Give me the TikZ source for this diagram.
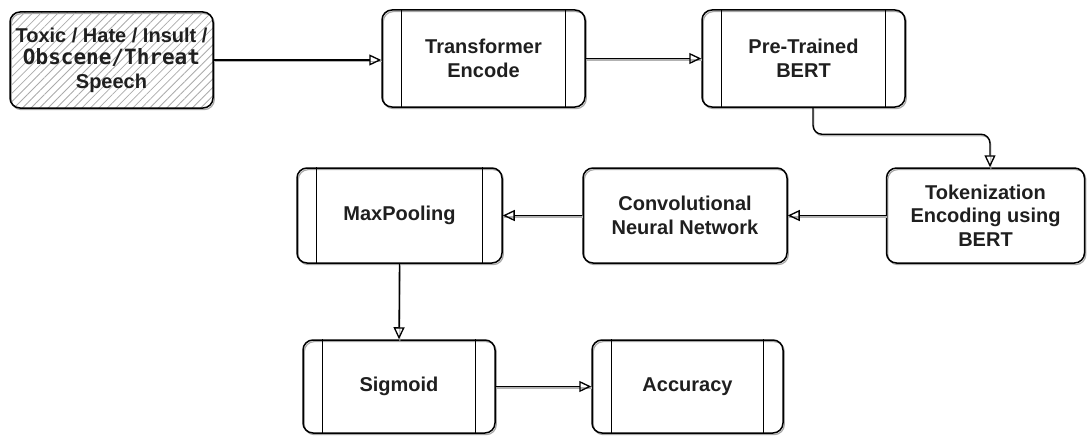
\documentclass[tikz,border=0pt]{standalone}
\usepackage{fontspec}
\setmainfont{Liberation Sans}
\newfontfamily\monob{DejaVu Sans Mono}
\usetikzlibrary{arrows.meta,patterns.meta,calc}
\begin{document}
\begin{tikzpicture}[x=1pt,y=-1pt,
  base/.style={draw=black, line width=1.5pt, rounded corners=10pt,
    font=\bfseries\fontsize{20}{23.5}\selectfont, text=black!88,
    align=center, inner sep=0pt,
    preaction={draw=black!35, line width=1.2pt,
      transform canvas={shift={(1.3pt,-1.6pt)}}}},
  hatchbox/.style={base, pattern={Lines[angle=45,distance=6pt,line width=0.8pt]},
    pattern color=black!33},
  arr/.style={draw=black, line width=1.4pt,
    -{Triangle[open,length=12pt,width=11pt,line width=1.3pt]},
    preaction={draw=black!30, line width=1.1pt, -,
      transform canvas={shift={(0.8pt,-1.5pt)}}}},
  sideline/.style={draw=black, line width=1.3pt}
]
\useasboundingbox (0,0) rectangle (1087,436);

\node[hatchbox, minimum width=203pt, minimum height=96pt] (b1) at (111.5,60)
  {Toxic / Hate / Insult /\\[-1pt]{\monob\fontsize{21}{23}\selectfont Obscene/Threat}\\Speech};
\node[base, minimum width=203pt, minimum height=97pt] (b2) at (483.5,58.5) {Transformer\\Encode};
\node[base, minimum width=203pt, minimum height=97pt] (b3) at (803.5,58.5) {Pre-Trained\\BERT};
\node[base, minimum width=198pt, minimum height=95pt] (b4) at (985.5,215.5) {Tokenization\\Encoding using\\BERT};
\node[base, minimum width=204pt, minimum height=95pt] (b5) at (685,215.5) {Convolutional\\Neural Network};
\node[base, minimum width=205pt, minimum height=95pt] (b6) at (399.5,215.5) {MaxPooling};
\node[base, minimum width=192pt, minimum height=93pt] (b7) at (399,386.5) {Sigmoid};
\node[base, minimum width=191pt, minimum height=93pt] (b8) at (687.5,386.5) {Accuracy};

\foreach \n in {b2,b3,b6,b7,b8}{
  \draw[sideline] ($(\n.north west)+(20,0)$) -- ($(\n.south west)+(20,0)$);
  \draw[sideline] ($(\n.north east)+(-20,0)$) -- ($(\n.south east)+(-20,0)$);
}

\coordinate (k1) at ($(b3.south)+(9.5,0)$);
\coordinate (k2) at ($(b4.north)+(4.5,0)$);

\draw[arr] (b1.east) -- (b1.east -| b2.west);
\draw[arr] (b2.east) -- (b3.west);
\draw[arr, rounded corners=9pt] (k1) |- ($(k2)+(0,-33)$) -- (k2);
\draw[arr] (b4.west) -- (b5.east);
\draw[arr] (b5.west) -- (b6.east);
\draw[arr] (b6.south) -- (b7.north);
\draw[arr] (b7.east) -- (b8.west);
\end{tikzpicture}
\end{document}
